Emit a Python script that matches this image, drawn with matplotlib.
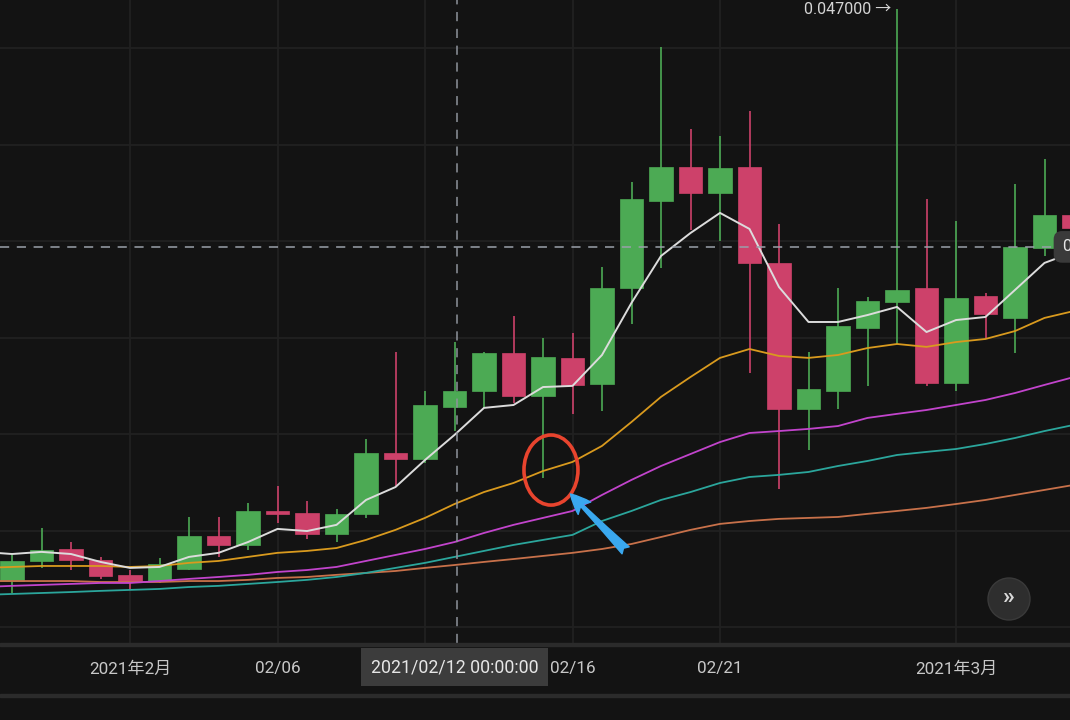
import matplotlib
matplotlib.use("Agg")
import matplotlib.pyplot as plt
import matplotlib.dates as mdates
from matplotlib.patches import Ellipse, Circle, Rectangle
from matplotlib.transforms import IdentityTransform, blended_transform_factory
import pandas as pd

plt.rcParams['font.family'] = ['Roboto', 'Noto Sans CJK SC', 'DejaVu Sans']

# ---- данные свечей (28.01 .. 05.03) ----
candle_dates = pd.date_range('2021-01-28', '2021-03-05')
opens = [0.01739, 0.01843, 0.01905, 0.01848, 0.01771, 0.01739, 0.01802, 0.01973,
         0.01926, 0.02102, 0.02092, 0.01983, 0.02087, 0.02403, 0.02371, 0.02641,
         0.02724, 0.02920, 0.02698, 0.02895, 0.02760, 0.03257, 0.03708, 0.03884,
         0.03749, 0.03884, 0.03387, 0.02630, 0.02724, 0.03050, 0.03185, 0.03257,
         0.02765, 0.03216, 0.03102, 0.03464, 0.03635]
highs = [0.01874, 0.02014, 0.01941, 0.01864, 0.01796, 0.01859, 0.02071, 0.02071,
         0.02144, 0.02232, 0.02154, 0.02112, 0.02475, 0.02926, 0.02724, 0.02977,
         0.02926, 0.03112, 0.02998, 0.03024, 0.03366, 0.03806, 0.04506, 0.04081,
         0.04045, 0.04174, 0.03589, 0.02926, 0.03257, 0.03211, 0.04700, 0.03718,
         0.03604, 0.03231, 0.03796, 0.03925, 0.03680]
lows = [0.01677, 0.01807, 0.01796, 0.01750, 0.01693, 0.01729, 0.01796, 0.01864,
        0.01900, 0.02040, 0.01957, 0.01941, 0.02066, 0.02232, 0.02351, 0.02516,
        0.02636, 0.02662, 0.02273, 0.02605, 0.02620, 0.03071, 0.03361, 0.03558,
        0.03501, 0.02817, 0.02216, 0.02418, 0.02630, 0.02750, 0.02967, 0.02750,
        0.02724, 0.02998, 0.02920, 0.03423, 0.03540]
closes = [0.01843, 0.01900, 0.01848, 0.01765, 0.01734, 0.01828, 0.01973, 0.01926,
          0.02102, 0.02087, 0.01983, 0.02087, 0.02403, 0.02371, 0.02651, 0.02724,
          0.02920, 0.02698, 0.02900, 0.02755, 0.03257, 0.03718, 0.03884, 0.03749,
          0.03879, 0.03387, 0.02630, 0.02734, 0.03060, 0.03190, 0.03247, 0.02765,
          0.03205, 0.03123, 0.03470, 0.03635, 0.03568]

# ---- скользящие средние (27.01 .. 05.03) ----
ma_dates = pd.date_range('2021-01-27', '2021-03-05')
ma_white = [0.01890, 0.01879, 0.01890, 0.01879, 0.01838, 0.01807, 0.01812, 0.01864,
            0.01885, 0.01941, 0.02009, 0.01998, 0.02030, 0.02159, 0.02226, 0.02366,
            0.02496, 0.02636, 0.02651, 0.02744, 0.02750, 0.02910, 0.03180, 0.03423,
            0.03542, 0.03646, 0.03563, 0.03262, 0.03081, 0.03081, 0.03117, 0.03159,
            0.03029, 0.03091, 0.03107, 0.03247, 0.03387, 0.03444]
ma_orange = [0.01807, 0.01812, 0.01817, 0.01817, 0.01817, 0.01812, 0.01817, 0.01833,
             0.01843, 0.01864, 0.01885, 0.01895, 0.01910, 0.01952, 0.02004, 0.02066,
             0.02138, 0.02200, 0.02247, 0.02309, 0.02356, 0.02439, 0.02563, 0.02693,
             0.02796, 0.02895, 0.02941, 0.02905, 0.02895, 0.02910, 0.02946, 0.02967,
             0.02952, 0.02977, 0.02993, 0.03034, 0.03102, 0.03138]
ma_magenta = [0.01708, 0.01714, 0.01719, 0.01724, 0.01729, 0.01729, 0.01739, 0.01750,
              0.01760, 0.01771, 0.01786, 0.01796, 0.01812, 0.01843, 0.01874, 0.01905,
              0.01941, 0.01988, 0.02030, 0.02066, 0.02102, 0.02185, 0.02263, 0.02335,
              0.02397, 0.02459, 0.02506, 0.02516, 0.02527, 0.02542, 0.02584, 0.02605,
              0.02625, 0.02651, 0.02677, 0.02713, 0.02755, 0.02796]
ma_teal = [0.01667, 0.01672, 0.01677, 0.01682, 0.01688, 0.01693, 0.01698, 0.01708,
           0.01714, 0.01724, 0.01734, 0.01745, 0.01760, 0.01781, 0.01807, 0.01833,
           0.01864, 0.01895, 0.01926, 0.01952, 0.01978, 0.02050, 0.02102, 0.02159,
           0.02200, 0.02247, 0.02278, 0.02289, 0.02304, 0.02335, 0.02361, 0.02392,
           0.02408, 0.02423, 0.02449, 0.02480, 0.02516, 0.02548]
ma_brown = [0.01739, 0.01739, 0.01739, 0.01739, 0.01734, 0.01734, 0.01734, 0.01739,
            0.01739, 0.01745, 0.01755, 0.01760, 0.01771, 0.01781, 0.01791, 0.01807,
            0.01822, 0.01838, 0.01853, 0.01869, 0.01885, 0.01905, 0.01931, 0.01967,
            0.02004, 0.02035, 0.02050, 0.02061, 0.02066, 0.02071, 0.02087, 0.02102,
            0.02118, 0.02138, 0.02159, 0.02185, 0.02211, 0.02237]

grid_dates = ['2021-02-01', '2021-02-06', '2021-02-11', '2021-02-16', '2021-02-21', '2021-03-01']
tick_dates = ['2021-02-01', '2021-02-06', '2021-02-16', '2021-02-21', '2021-03-01']
tick_labels = ['2021年2月', '02/06', '02/16', '02/21', '2021年3月']
grid_prices = [0.015, 0.020, 0.025, 0.030, 0.035, 0.040, 0.045]

cross_date = pd.Timestamp('2021-02-12')
cross_price = 0.03470
max_price = 0.047

BG = '#131313'
GRID = '#212121'
UP = '#4caa54'
DOWN = '#cd416a'

fig = plt.figure(figsize=(10.7, 7.2), dpi=100, facecolor=BG)
ax = fig.add_axes([0, 77 / 720, 1, 643 / 720])
ax.set_facecolor(BG)

x = mdates.date2num(candle_dates)
xm = mdates.date2num(ma_dates)
d0 = mdates.date2num(pd.Timestamp('2021-02-01'))
ax.set_xlim(d0 - 130 / 29.5, d0 + 940 / 29.5)
ax.set_ylim(0.01418, 0.04749)

# сетка
for p in grid_prices:
    ax.axhline(p, color=GRID, lw=1.3, zorder=0)
for t in mdates.date2num(pd.to_datetime(grid_dates)):
    ax.axvline(t, color=GRID, lw=1.3, zorder=0)

# свечи
for xi, o, h, l, c in zip(x, opens, highs, lows, closes):
    col = UP if c >= o else DOWN
    ax.vlines(xi, l, h, color=col, lw=1.2, zorder=2)
    ax.bar(xi, abs(c - o), bottom=min(o, c), width=0.78, color=col,
           edgecolor=col, lw=0.5, zorder=3)

# скользящие средние
ax.plot(xm, ma_brown, color='#c8714a', lw=1.3, zorder=4)
ax.plot(xm, ma_teal, color='#2ba69c', lw=1.3, zorder=4)
ax.plot(xm, ma_magenta, color='#c244cc', lw=1.3, zorder=4)
ax.plot(xm, ma_orange, color='#d99a1e', lw=1.3, zorder=4)
ax.plot(xm, ma_white, color='#dcdcdc', lw=1.4, zorder=5)

# перекрестие
cx = mdates.date2num(cross_date)
ax.axvline(cx + 0.07, color='#8e939c', lw=1.1, ls=(0, (6, 5)), zorder=6)
ax.axhline(cross_price, color='#9aa0aa', lw=1.1, ls=(0, (6, 5)), zorder=6)

# метка максимума
i_max = highs.index(max_price)
ax.text(x[i_max] - 0.2, max_price, f'{max_price:.6f} →', color='#d4d4d4',
        fontsize=11.5, ha='right', va='center', zorder=7)

# оси
ax.set_yticks([])
ax.set_xticks(mdates.date2num(pd.to_datetime(tick_dates)))
ax.set_xticklabels(tick_labels)
ax.tick_params(axis='x', length=0, pad=13, labelsize=12.3, labelcolor='#c8c8c8')
for s in ax.spines.values():
    s.set_visible(False)

# полосы нижней шкалы
fig.add_artist(Rectangle((0, 74), 1070, 3, transform=IdentityTransform(),
                         color='#2b2b2b', zorder=1))
fig.add_artist(Rectangle((0, 23), 1070, 3, transform=IdentityTransform(),
                         color='#2b2b2b', zorder=1))

# метка даты перекрестия
trans = blended_transform_factory(ax.transData, ax.transAxes)
ax.text(cx + 0.0, -0.0375, '2021/02/12 00:00:00', transform=trans,
        ha='center', va='center', fontsize=12.8, color='#e6e6e6', zorder=10,
        clip_on=False,
        bbox=dict(boxstyle='square,pad=0.55', fc='#3c3c3c', ec='none'))

# метка цены справа (обрезана краем)
ax.text(1062 / 1070, cross_price,
        f'{cross_price:.6f}', transform=blended_transform_factory(ax.transAxes, ax.transData),
        ha='left', va='center', fontsize=12, color='#e6e6e6', zorder=10, clip_on=False,
        bbox=dict(boxstyle='round,pad=0.5', fc='#3a3a3a', ec='none'))

# красный эллипс и синяя стрелка
ax.add_patch(Ellipse((d0 + 14.27, 0.02314), 54 / 29.5, 0.00363, fill=False,
                     ec='#e8442e', lw=2.6, zorder=8))
ax.annotate('', xy=(d0 + 14.93, 0.02190), xytext=(d0 + 16.8, 0.01898),
            arrowprops=dict(arrowstyle='fancy,head_length=0.8,head_width=0.7,tail_width=0.4',
                            color='#3aa8ef', mutation_scale=18, shrinkA=0, shrinkB=0),
            zorder=9)

# кнопка »
fig.add_artist(Circle((1009, 121), 21, transform=IdentityTransform(),
                      fc='#2e2e2e', ec='#3a3a3a', lw=1, zorder=10))
fig.text(1009 / 1070, 123 / 720, '»', ha='center', va='center', fontsize=17,
         fontweight='bold', color='#d8d8d8', zorder=11)

fig.savefig('out.png', dpi=100, facecolor=BG)
